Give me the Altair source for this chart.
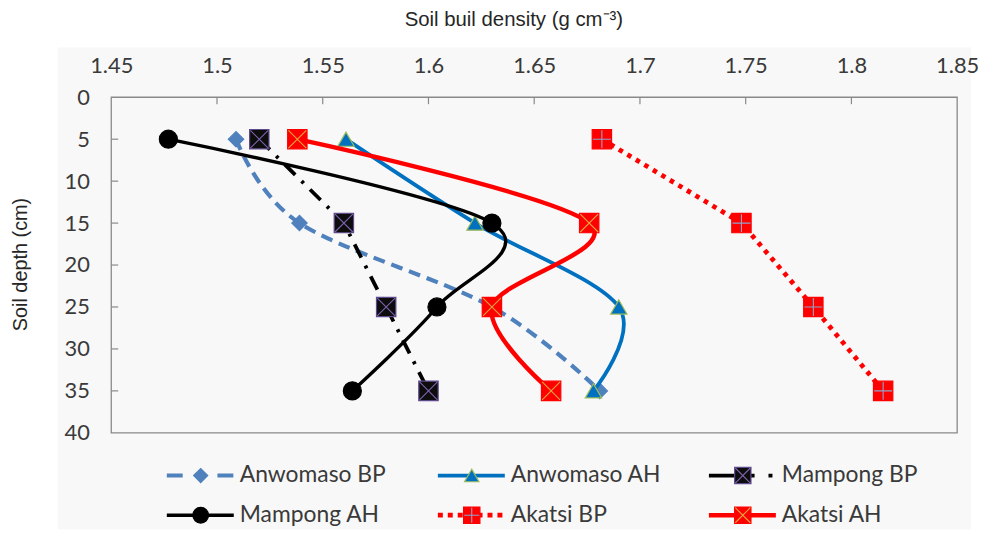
import altair as alt
import pandas as pd

# ---------------- data ----------------
DEPTH = [5, 15, 25, 35]
SERIES = ["Anwomaso BP", "Anwomaso AH", "Mampong BP", "Mampong AH", "Akatsi BP", "Akatsi AH"]
ANWOMASO_BP = [1.509, 1.539, 1.630, 1.681]
ANWOMASO_AH = [1.561, 1.622, 1.690, 1.678]
MAMPONG_BP = [1.520, 1.560, 1.580, 1.600]
MAMPONG_AH = [1.477, 1.630, 1.604, 1.564]
AKATSI_BP = [1.682, 1.748, 1.782, 1.815]
AKATSI_AH = [1.538, 1.676, 1.630, 1.658]
VALUES = [ANWOMASO_BP, ANWOMASO_AH, MAMPONG_BP, MAMPONG_AH, AKATSI_BP, AKATSI_AH]

X_TICKS = [1.45, 1.5, 1.55, 1.6, 1.65, 1.7, 1.75, 1.8, 1.85]
Y_TICKS = [0, 5, 10, 15, 20, 25, 30, 35, 40]
X_INNER_TICKS = X_TICKS[1:-1]
Y_INNER_TICKS = Y_TICKS[1:-1]

LEGEND_COL = [0, 1, 2, 0, 1, 2]
LEGEND_ROW = [0, 0, 0, 1, 1, 1]

# ---------------- styles ----------------
XPATH = "M-1,-1L1,1M1,-1L-1,1"
PLUSPATH = "M-1,0L1,0M0,-1L0,1"
STYLE = {
    "Anwomaso BP": dict(color="#4F81BD", dash=[12, 7], ldash=[16, 35], width=4.2, interp="cardinal",
                        shape="diamond", fill="#4F81BD", stroke="#4F81BD", size=240, lsize=200),
    "Anwomaso AH": dict(color="#0070C0", dash=None, ldash=None, width=3.8, interp="cardinal",
                        shape="triangle-up", fill="#0070C0", stroke="#9BBB59", size=270, lsize=210),
    "Mampong BP": dict(color="#000000", dash=[15, 9, 3, 9], ldash=[46, 14, 4, 14], width=3.8,
                       interp="linear", shape="square", fill="#0d0d0d", stroke="#5E4A8A",
                       size=380, lsize=270, overlay=(XPATH, "#7E63B0")),
    "Mampong AH": dict(color="#000000", dash=None, ldash=None, width=3.4, interp="cardinal",
                       shape="circle", fill="#000000", stroke="#000000", size=330, lsize=250),
    "Akatsi BP": dict(color="#FF0000", dash=[4.5, 5.5], ldash=[5, 5], width=4.8, interp="linear",
                      shape="square", fill="#FF0000", stroke="#FF0000", size=380, lsize=270,
                      overlay=(PLUSPATH, "#8FA3CC")),
    "Akatsi AH": dict(color="#FF0000", dash=None, ldash=None, width=4.5, interp="cardinal",
                      shape="square", fill="#FF0000", stroke="#FF0000", size=380, lsize=270,
                      overlay=(XPATH, "#E2A63E")),
}

W, H = 852, 338
TICK_FONT = "Lato"
TITLE_FONT = "Liberation Sans"
TXT = "#3a3a3a"

rows = []
for name, vals in zip(SERIES, VALUES):
    for d, v in zip(DEPTH, vals):
        rows.append({"series": name, "depth": d, "density": v})
df = pd.DataFrame(rows)

xscale = alt.Scale(domain=[1.45, 1.85], nice=False, zero=False)
yscale = alt.Scale(domain=[0, 40], nice=False, zero=False, reverse=True)
xaxis = alt.Axis(orient="top", values=X_TICKS, format=".3~g", domain=False, ticks=False,
                 grid=False, labelFont=TICK_FONT, labelFontSize=22, labelColor=TXT,
                 labelPadding=20, title="Soil buil density (g cm\u207b\u00b3)",
                 titleFont=TITLE_FONT, titleFontSize=20.5, titleFontWeight="normal",
                 titleColor="#262626", titleX=405, titleY=-78, titleBaseline="middle",
                 titleAnchor="start", titleAlign="center", labelFlush=False, zindex=2)
yaxis = alt.Axis(values=Y_TICKS, domain=False, ticks=False, grid=False,
                 labelFont=TICK_FONT, labelFontSize=22, labelColor=TXT, labelPadding=22,
                 title="Soil depth (cm)", titleFont=TITLE_FONT, titleFontSize=20,
                 titleFontWeight="normal", titleColor="#262626", titleAngle=-90,
                 titleX=-91, titleY=168, titleBaseline="middle", titleAlign="center",
                 labelFlush=False, zindex=2)

X = lambda f: alt.X(f, type="quantitative", scale=xscale, axis=xaxis)
Y = lambda f: alt.Y(f, type="quantitative", scale=yscale, axis=yaxis)

dummy = pd.DataFrame({"a": [0]})
bg = alt.Chart(dummy).mark_rect(color="#F8F8F8").encode(
    x=alt.value(-54), x2=alt.value(W + 14), y=alt.value(-50), y2=alt.value(H + 97))
frame = alt.Chart(dummy).mark_rect(fillOpacity=0, stroke="#898989", strokeWidth=1.3).encode(
    x=alt.value(0), x2=alt.value(W), y=alt.value(0), y2=alt.value(H))

xt = alt.Chart(pd.DataFrame({"v": X_INNER_TICKS})).mark_rule(color="#898989", strokeWidth=1.2).encode(
    x=X("v"), y=alt.value(0), y2=alt.value(7))
yt = alt.Chart(pd.DataFrame({"v": Y_INNER_TICKS})).mark_rule(color="#898989", strokeWidth=1.2).encode(
    y=Y("v"), x=alt.value(0), x2=alt.value(7))

layers = [bg, xt, yt]
for name in SERIES:
    s = STYLE[name]
    base = alt.Chart(df).transform_filter(alt.datum.series == name)
    lkw = dict(color=s["color"], strokeWidth=s["width"], interpolate=s["interp"], strokeCap="butt")
    if s["interp"] == "cardinal":
        lkw["tension"] = 0
    if s["dash"]:
        lkw["strokeDash"] = s["dash"]
    layers.append(base.mark_line(**lkw).encode(x=X("density"), y=Y("depth"), order="depth:Q"))
    layers.append(base.mark_point(shape=s["shape"], filled=True, fill=s["fill"], stroke=s["stroke"],
                                  strokeWidth=1.2, size=s["size"], opacity=1).encode(
        x=X("density"), y=Y("depth")))
    if "overlay" in s:
        path, col = s["overlay"]
        layers.append(base.mark_point(shape=path, filled=False, stroke=col, strokeWidth=1.1,
                                      size=s["size"] * 0.85, opacity=1).encode(
            x=X("density"), y=Y("depth")))
layers.append(frame)

top = alt.layer(*layers).properties(width=W, height=H)

# ---------------- legend panel ----------------
leg_df = pd.DataFrame({"series": SERIES, "col": LEGEND_COL, "row": LEGEND_ROW})
lxs = alt.Scale(domain=[0, 3], nice=False, zero=False)
lys = alt.Scale(domain=[0, 1.75], nice=False, zero=False, reverse=True)
LX = lambda f: alt.X(f, type="quantitative", scale=lxs, axis=None)
LY = lambda f: alt.Y(f, type="quantitative", scale=lys, axis=None)

lbase = alt.Chart(leg_df).transform_calculate(
    x0="datum.col + 0.205", x1="datum.col + 0.452", xm="datum.col + 0.33",
    xt="datum.col + 0.474", yr="datum.row + 0.5")
leg_layers = []
for name in SERIES:
    s = STYLE[name]
    b = lbase.transform_filter(alt.datum.series == name)
    rkw = dict(color=s["color"], strokeWidth=s["width"], strokeCap="butt")
    if s["ldash"]:
        rkw["strokeDash"] = s["ldash"]
    leg_layers.append(b.mark_rule(**rkw).encode(x=LX("x0"), x2="x1:Q", y=LY("yr")))
    leg_layers.append(b.mark_point(shape=s["shape"], filled=True, fill=s["fill"], stroke=s["stroke"],
                                   strokeWidth=1.2, size=s["lsize"], opacity=1).encode(
        x=LX("xm"), y=LY("yr")))
    if "overlay" in s:
        path, col = s["overlay"]
        leg_layers.append(b.mark_point(shape=path, filled=False, stroke=col, strokeWidth=1.1,
                                       size=s["lsize"] * 0.85, opacity=1).encode(
            x=LX("xm"), y=LY("yr")))
leg_layers.append(lbase.mark_text(align="left", baseline="middle", font=TICK_FONT, fontSize=23,
                                  color=TXT).encode(x=LX("xt"), y=LY("yr"), text="series:N"))
legend = alt.layer(*leg_layers).properties(width=819, height=70)

chart = alt.vconcat(top, legend, spacing=23, bounds="flush").properties(
    padding={"left": 3, "top": 0, "right": 0, "bottom": 0}, background="white"
).configure_view(strokeWidth=0)

chart.save("out.html", embed_options={"renderer": "svg", "actions": False})
